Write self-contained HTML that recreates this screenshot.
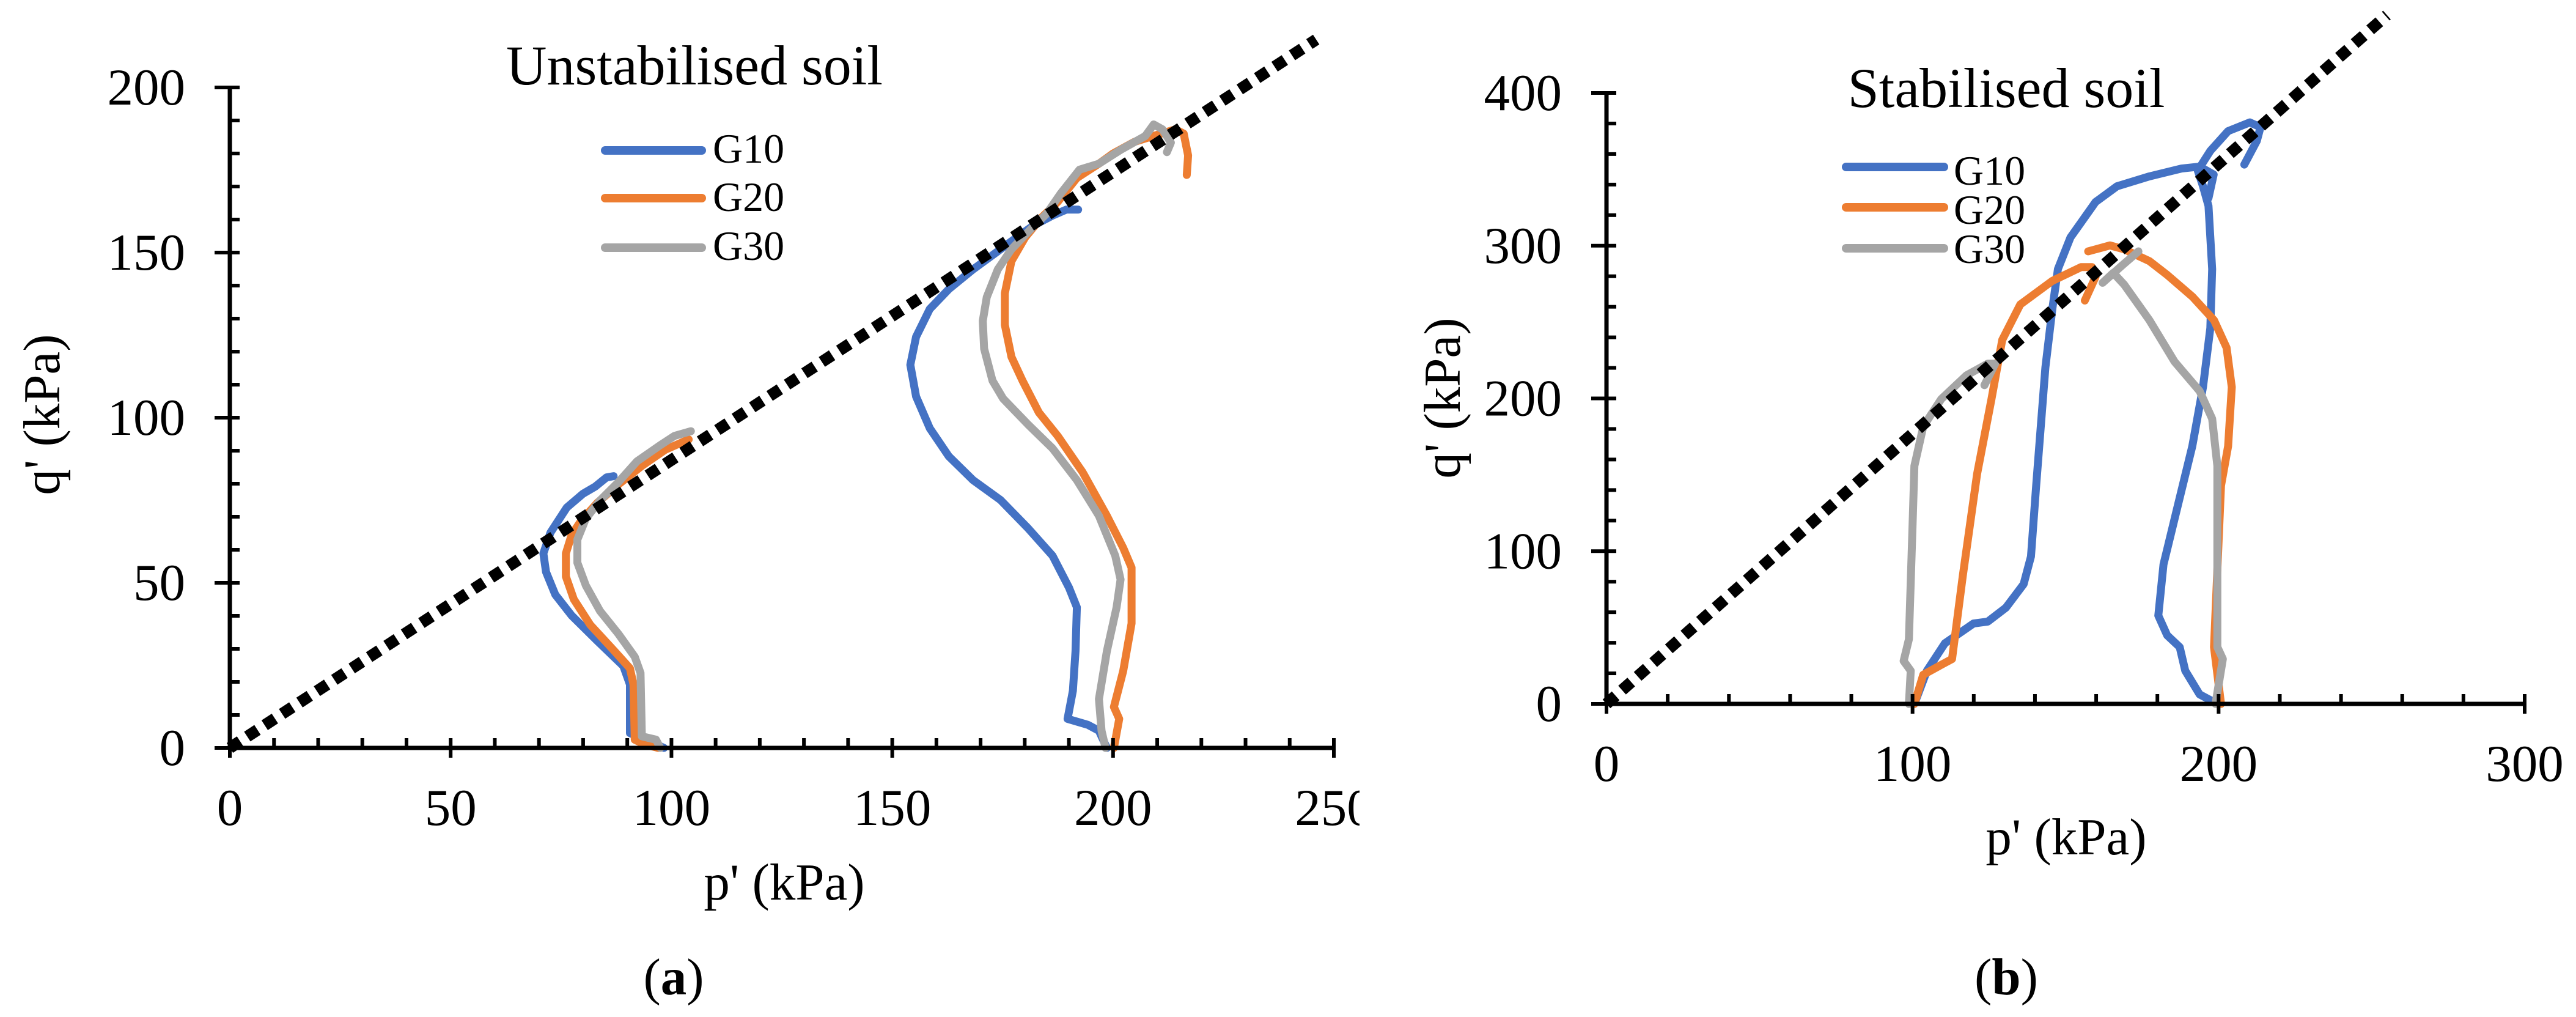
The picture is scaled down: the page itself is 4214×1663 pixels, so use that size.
<!DOCTYPE html>
<html><head><meta charset="utf-8"><style>
html,body{margin:0;padding:0;background:#fff;}
svg{display:block;}
svg, svg text{font-family:"Liberation Serif","DejaVu Serif",serif;fill:#000;}
</style></head>
<body>
<svg id="fig" width="4214" height="1663" viewBox="0 0 4214 1663" xmlns="http://www.w3.org/2000/svg" font-family="Liberation Serif, DejaVu Serif, serif">
<defs><clipPath id="clipA"><rect x="0" y="0" width="2224" height="1663"/></clipPath></defs>
<g id="chartA" clip-path="url(#clipA)"></g>
<g id="chartB"></g>
</svg>
<script>
// ---- Chart (a) data ----
const aXTicks = [0, 50, 100, 150, 200, 250];
const aYTicks = [0, 50, 100, 150, 200];
const aCSL = [[0, 0], [246, 214.5]];
const aG10lowP = [98.3,95.4,90.6,90.6,89.1,83.2,77.4,73.7,71.6,71.0,72.6,76.3,80.0,82.7,85.3,86.9];
const aG10lowQ = [0,1.8,4.5,19.2,24.8,32.4,40.1,46.4,53.3,58.9,65.2,72.8,77.0,79.1,81.9,82.3];
const aG20lowP = [97.0,93.8,91.7,91.4,90.6,86.9,81.6,77.9,76.1,76.1,77.4,79.5,83.2,88.0,93.3,98.6,103.9];
const aG20lowQ = [0,1.1,2.5,19.2,24.1,29.6,37.3,45.0,51.9,58.9,64.5,68.7,74.2,79.8,85.4,90.3,93.4];
const aG30lowP = [97.5,96.5,93.3,93.0,91.7,88.0,83.8,80.6,78.7,78.7,80.6,83.8,88.0,92.2,97.5,100.7,104.4];
const aG30lowQ = [0,2.5,3.5,22.7,27.6,34.5,41.5,49.2,56.1,63.1,69.4,74.9,80.5,86.8,91.7,94.5,95.9];
const aG10highP = [198.6,196.8,194.3,189.7,190.9,191.5,191.8,190.0,186.3,180.7,174.5,168.3,162.8,158.5,155.4,154.1,155.4,158.5,162.8,168.3,173.3,178.2,182.0,186.3,189.4,192.1];
const aG10highQ = [0,5.2,7.0,8.8,17.3,29.3,42.6,48.6,58.2,66.6,75.1,81.1,88.3,96.8,106.4,116.0,124.5,132.9,138.9,144.9,149.8,154.6,158.2,161.2,163.0,163.0];
const aG20highP = [200.2,201.4,200.2,202.3,204.2,204.2,202.3,198.6,193.1,187.5,183.2,179.5,177.0,175.5,175.5,177.0,180.1,183.8,187.5,191.8,196.8,199.9,204.8,209.1,214.1,216.0,217.0,216.7];
const aG20highQ = [0,8.8,12.4,23.3,37.7,54.6,60.6,70.3,83.5,94.4,101.6,111.2,118.4,128.1,137.7,147.4,154.6,160.6,165.4,172.6,176.9,179.9,183.5,185.3,187.3,186.0,179.4,173.5];
const aG30highP = [198.3,197.4,196.8,198.6,200.8,201.7,200.5,196.8,191.8,186.3,180.7,175.1,172.7,170.8,170.5,171.4,173.9,177.0,181.3,185.0,188.1,192.4,196.8,201.7,207.3,209.2,211.2,213.1,212.2];
const aG30highQ = [0,5.2,14.8,29.3,42.6,51.0,58.2,70.3,81.1,90.7,98.0,105.8,111.2,120.9,129.3,136.5,144.9,151.0,157.0,161.8,167.8,175.1,176.9,181.1,185.3,188.8,187.3,183.3,180.4];

// ---- Chart (b) data ----
const bXTicks = [0, 100, 200, 300];
const bYTicks = [0, 100, 200, 300, 400];
const bCSL = [[0, 0], [255, 451]];
const bG10aP = [100.6,104.7,110.6,119.9,124.6,130.5,136.3,138.7,140.4,143.4,145.7,147.5,151.6,159.8,166.8,177.4,187.9,193.8,198.4,196.7];
const bG10aQ = [0,21.7,39.7,52.6,53.9,63.0,78.4,96.5,142.9,220.3,259.0,284.7,305.4,328.6,338.9,345.4,350.5,351.8,346.6,331.2];
const bG10bP = [199.6,193.8,189.1,187.3,183.2,180.3,182.0,186.7,191.4,194.9,197.3,197.9,196.7,194.9,193.2,197.3,203.1,210.2,213.7,212.5,208.4];
const bG10bQ = [0,6.2,21.7,37.2,44.9,57.8,91.3,130.0,168.7,207.4,246.1,284.7,326.0,338.9,349.2,362.1,375.0,380.7,377.6,368.6,353.1];
const bG20aP = [100.6,103.5,109.4,112.9,116.4,121.1,125.8,129.3,135.2,145.7,155.1,158.6,159.8,156.3];
const bG20aQ = [0,19.1,25.6,29.4,83.6,150.6,199.6,238.3,261.5,277.0,286.0,286.0,279.6,264.1];
const bG20bP = [200.8,198.5,200.8,203.1,204.3,202.6,198.5,191.4,183.2,177.4,169.2,164.5,157.4];
const bG20bQ = [0,37.2,142.9,168.7,207.4,233.2,251.2,266.7,280.9,289.9,297.6,300.2,296.3];
const bG30aP = [98.8,99.4,97.1,98.8,100.0,100.6,103.5,109.4,117.6,124.6,127.0,123.5];
const bG30aQ = [0,21.7,28.1,42.3,117.1,155.8,181.6,199.6,215.1,222.8,222.8,208.7];
const bG30bP = [199.0,201.4,199.6,199.6,197.9,193.8,185.6,177.4,169.2,165.6,162.1,168.6,173.8];
const bG30bQ = [0,29.4,37.2,155.8,186.7,204.8,224.1,251.2,274.4,282.2,275.7,287.3,296.3];

const NS = "http://www.w3.org/2000/svg";
const BLUE = "#4472C4", ORANGE = "#ED7D31", GRAY = "#A5A5A5";
const FONT = '"Liberation Serif", "DejaVu Serif", serif';
function mk(tag, attrs, parent) {
  const e = document.createElementNS(NS, tag);
  for (const k in attrs) e.setAttribute(k, attrs[k]);
  parent.appendChild(e);
  return e;
}
function txt(parent, x, y, s, size, anchor, extra) {
  const t = mk("text", Object.assign({x: x, y: y, "font-size": size, "text-anchor": anchor, "font-family": FONT}, extra || {}), parent);
  t.textContent = s;
  return t;
}

function buildChart(g, cfg) {
  const sx = p => cfg.x0 + (p - cfg.xmin) / (cfg.xmax - cfg.xmin) * (cfg.x1 - cfg.x0);
  const sy = q => cfg.y0 - (q - cfg.ymin) / (cfg.ymax - cfg.ymin) * (cfg.y0 - cfg.y1);

  cfg.series.forEach(s => {
    const pts = s.p.map((p, i) => sx(p).toFixed(1) + "," + sy(s.q[i]).toFixed(1)).join(" ");
    const pl = mk("polyline", {points: pts, fill: "none", stroke: s.color, "stroke-width": 13, "stroke-linejoin": "round", "stroke-linecap": "round"}, g);
    
    
  });

  const ax = mk("g", {}, g);
  
  
  mk("line", {x1: cfg.x0, y1: cfg.y0, x2: cfg.x1 + 3, y2: cfg.y0, stroke: "#000", "stroke-width": 7}, ax);
  mk("line", {x1: cfg.x0, y1: cfg.y0 + 3, x2: cfg.x0, y2: cfg.y1 - 3, stroke: "#000", "stroke-width": 7}, ax);
  for (let v = cfg.xmin; v <= cfg.xmax + 1e-9; v += cfg.xminor) {
    const x = sx(v);
    const major = Math.abs(v / cfg.xmajor - Math.round(v / cfg.xmajor)) < 1e-6;
    mk("line", {x1: x, y1: cfg.y0 - 16, x2: x, y2: cfg.y0 + (major ? 16 : 0), stroke: "#000", "stroke-width": 6}, ax);
  }
  for (let v = cfg.ymin; v <= cfg.ymax + 1e-9; v += cfg.yminor) {
    const y = sy(v);
    const major = Math.abs(v / cfg.ymajor - Math.round(v / cfg.ymajor)) < 1e-6;
    mk("line", {x1: cfg.x0 - (major ? 25 : 0), y1: y, x2: cfg.x0 + 16, y2: y, stroke: "#000", "stroke-width": 6}, ax);
  }
  cfg.xticks.forEach(v => {
    const t = txt(ax, sx(v), cfg.y0 + 126, String(v), 85, "middle");
    
    
  });
  cfg.yticks.forEach(v => {
    const t = txt(ax, cfg.x0 - 73, sy(v) + 28, String(v), 85, "end");
    
    
  });

  const c = cfg.csl;
  const csl = mk("line", {x1: sx(c[0][0]), y1: sy(c[0][1]), x2: sx(c[1][0]), y2: sy(c[1][1]), stroke: "#000", "stroke-width": 19, "stroke-dasharray": "20 14"}, g);
  
  
}

const gA = document.getElementById("chartA");
buildChart(gA, {
  x0: 376, x1: 2182, y0: 1223, y1: 143, xmin: 0, xmax: 250, ymin: 0, ymax: 200,
  xminor: 10, xmajor: 50, yminor: 10, ymajor: 50, xticks: aXTicks, yticks: aYTicks, csl: aCSL,
  series: [
    {name: "g10-low-line", color: BLUE, p: aG10lowP, q: aG10lowQ},
    {name: "g20-low-line", color: ORANGE, p: aG20lowP, q: aG20lowQ},
    {name: "g30-low-line", color: GRAY, p: aG30lowP, q: aG30lowQ},
    {name: "g10-high-line", color: BLUE, p: aG10highP, q: aG10highQ},
    {name: "g20-high-line", color: ORANGE, p: aG20highP, q: aG20highQ},
    {name: "g30-high-line", color: GRAY, p: aG30highP, q: aG30highQ}
  ]
});
const gB = document.getElementById("chartB");
buildChart(gB, {
  x0: 2628, x1: 4130, y0: 1151, y1: 152, xmin: 0, xmax: 300, ymin: 0, ymax: 400,
  xminor: 20, xmajor: 100, yminor: 20, ymajor: 100, xticks: bXTicks, yticks: bYTicks, csl: bCSL,
  series: [
    {name: "g10-100kpa-line", color: BLUE, p: bG10aP, q: bG10aQ},
    {name: "g10-200kpa-line", color: BLUE, p: bG10bP, q: bG10bQ},
    {name: "g20-100kpa-line", color: ORANGE, p: bG20aP, q: bG20aQ},
    {name: "g20-200kpa-line", color: ORANGE, p: bG20bP, q: bG20bQ},
    {name: "g30-100kpa-line", color: GRAY, p: bG30aP, q: bG30aQ},
    {name: "g30-200kpa-line", color: GRAY, p: bG30bP, q: bG30bQ}
  ]
});

function legend(g, x1, x2, tx, ys, tys) {
  const lg = mk("g", {}, g);
  
  
  const names = ["G10", "G20", "G30"], cols = [BLUE, ORANGE, GRAY];
  names.forEach((n, i) => {
    const e = mk("g", {}, lg);
    
    
    mk("line", {x1: x1, y1: ys[i], x2: x2, y2: ys[i], stroke: cols[i], "stroke-width": 14, "stroke-linecap": "round"}, e);
    txt(e, tx, tys[i], n, 68, "start");
  });
}
legend(gA, 990, 1148, 1166, [246, 324, 405], [266, 345, 425]);
legend(gB, 3020, 3180, 3196, [273, 339, 406], [302, 366, 430]);

function label(g, x, y, s, size, anchor, name, extra) {
  const t = txt(g, x, y, s, size, anchor, extra);
  
  
  return t;
}
label(gA, 1136, 138, "Unstabilised soil", 92, "middle", "chart-title");
label(gA, 1283, 1471, "p' (kPa)", 85, "middle", "x-axis-title");
label(gA, 0, 0, "q' (kPa)", 85, "middle", "y-axis-title", {transform: "translate(97,678) rotate(-90)"});
label(gB, 3282, 175, "Stabilised soil", 92, "middle", "chart-title");
label(gB, 3380, 1397, "p' (kPa)", 85, "middle", "x-axis-title");
label(gB, 0, 0, "q' (kPa)", 85, "middle", "y-axis-title", {transform: "translate(2388,651) rotate(-90)"});

const svg = document.getElementById("fig");
const capA = label(svg, 1102, 1626, "(", 85, "middle", "caption-a");
const ta = mk("tspan", {"font-weight": "bold"}, capA); ta.textContent = "a";
capA.appendChild(document.createTextNode(")"));
const capB = label(svg, 3282, 1626, "(", 85, "middle", "caption-b");
const tb = mk("tspan", {"font-weight": "bold"}, capB); tb.textContent = "b";
capB.appendChild(document.createTextNode(")"));
</script>
</body></html>
